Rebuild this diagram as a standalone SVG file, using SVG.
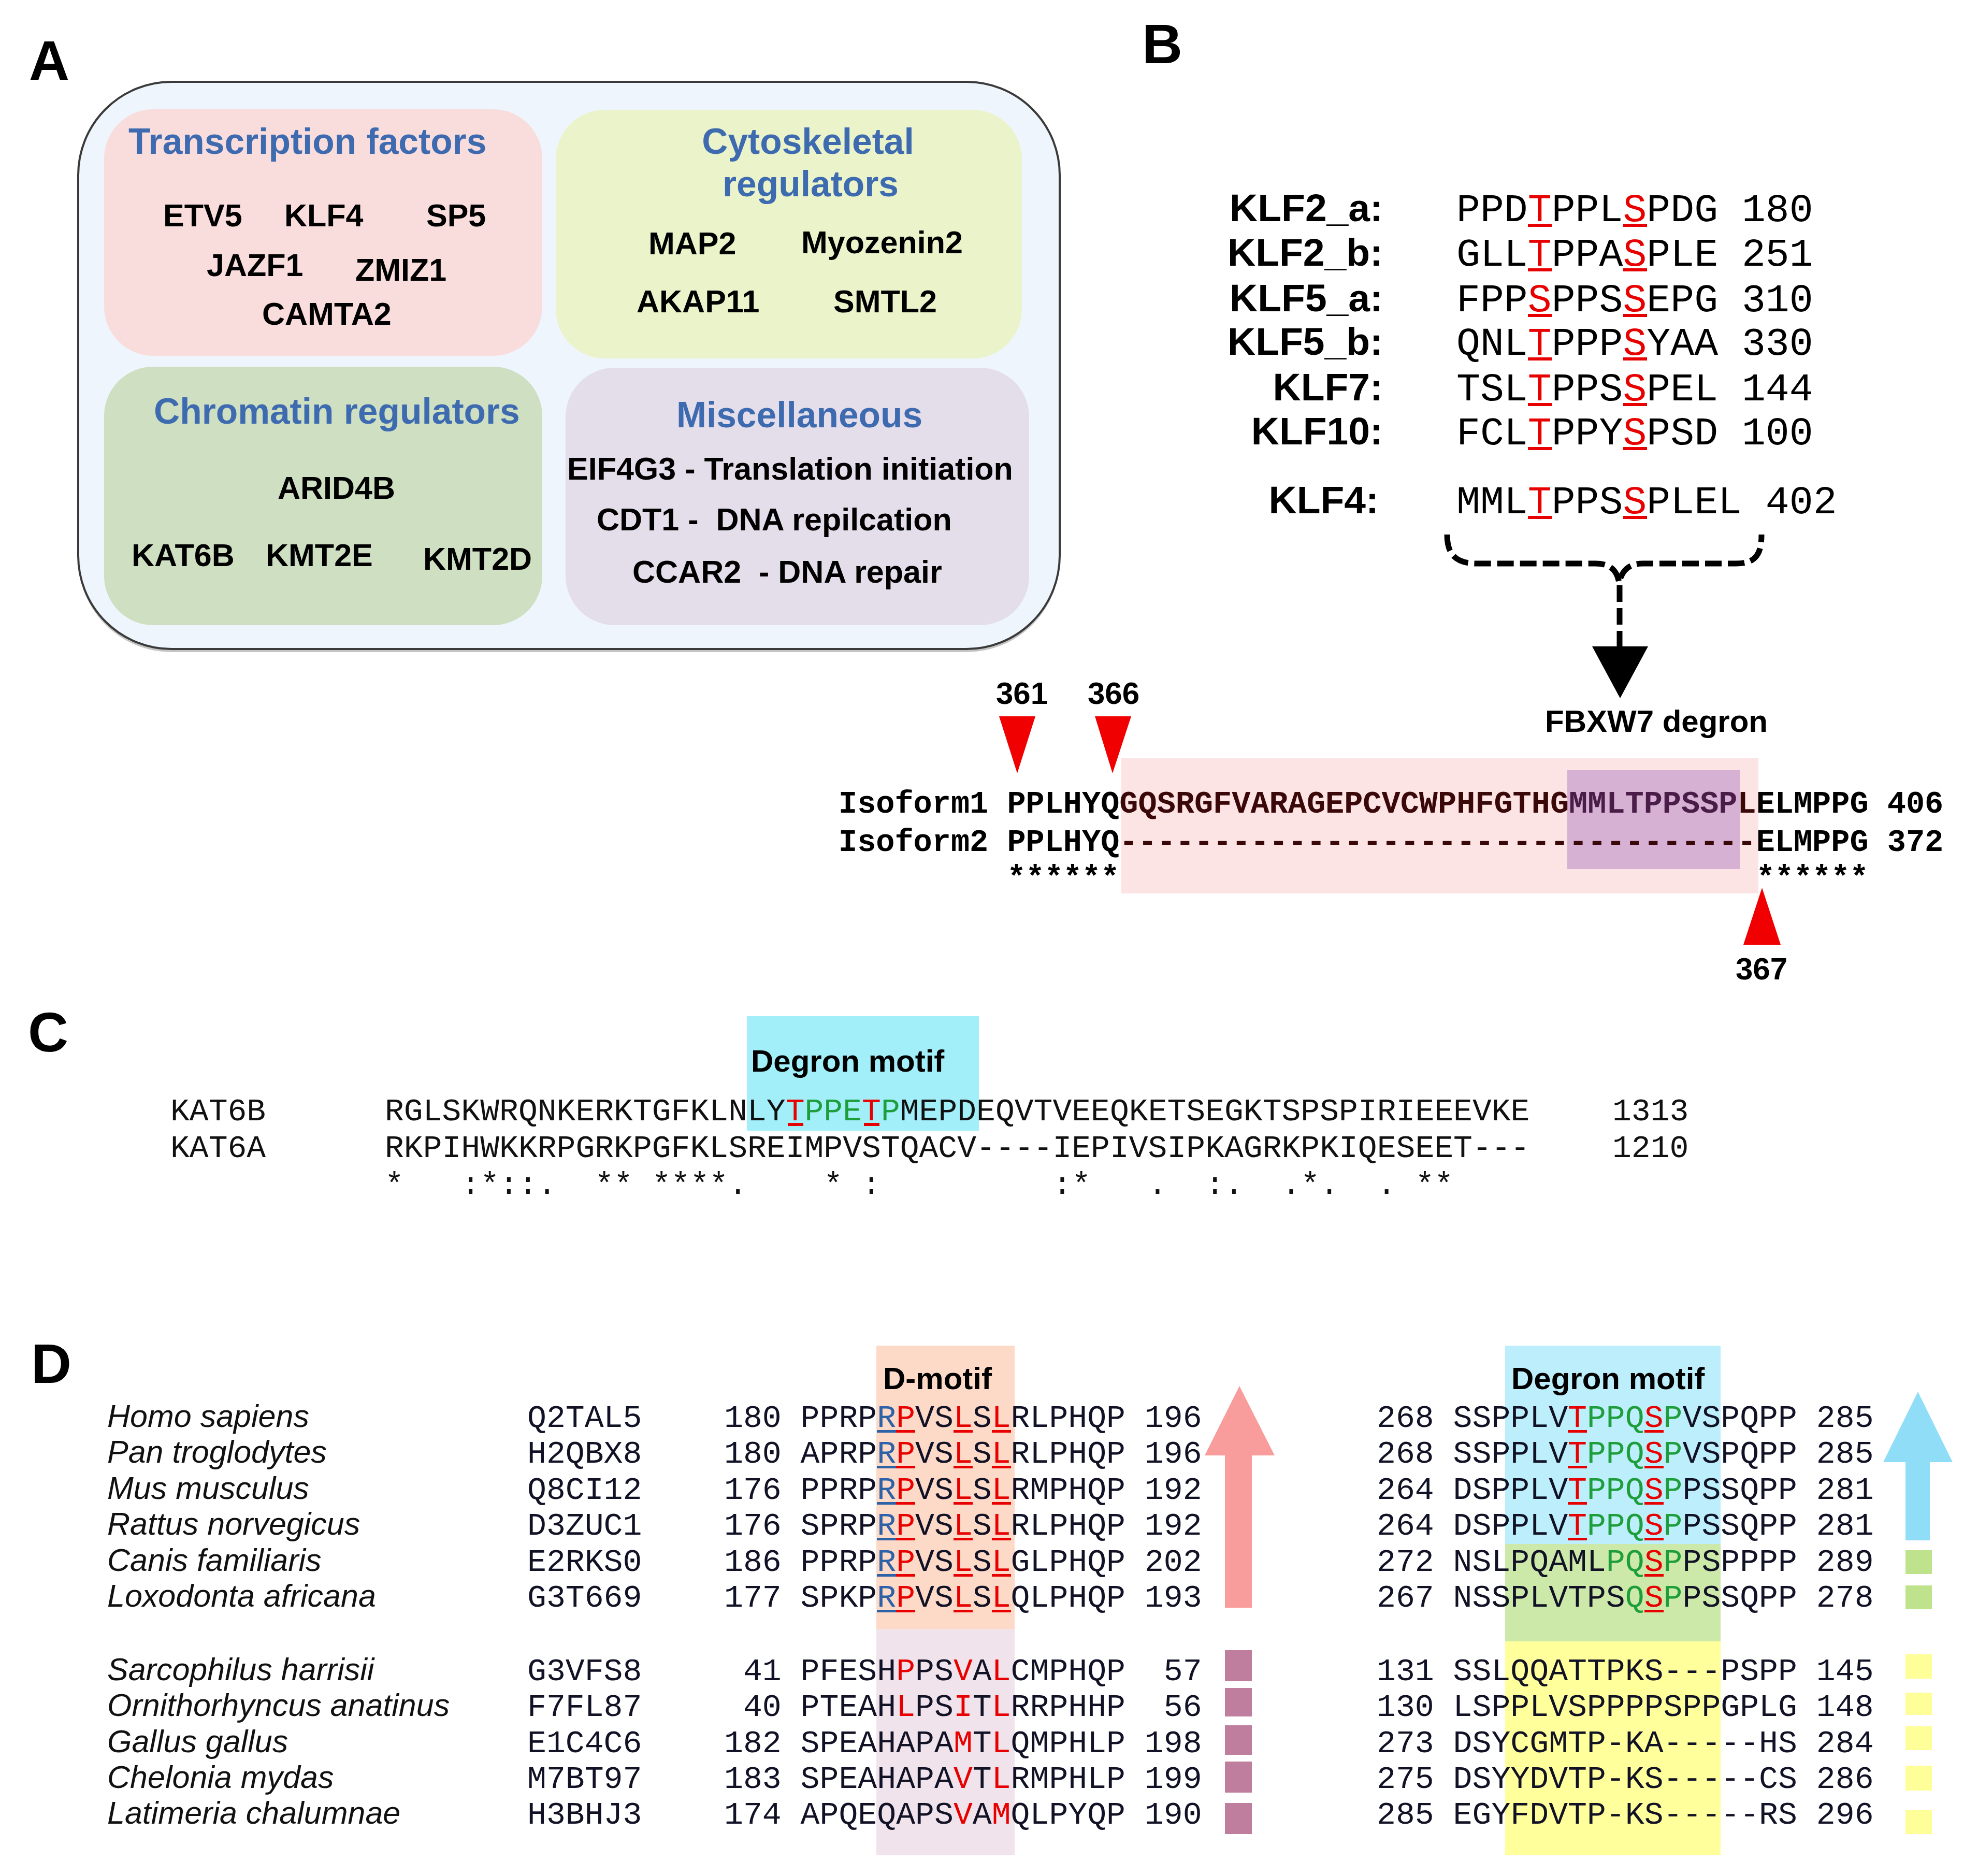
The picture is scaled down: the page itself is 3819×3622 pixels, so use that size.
<svg xmlns="http://www.w3.org/2000/svg" width="3819" height="3622" viewBox="0 0 3819 3622">
<style>
.lbl{font-family:"Liberation Sans",Arial,sans-serif;font-weight:bold;font-size:108px;fill:#000}
.ttl{font-family:"Liberation Sans",Arial,sans-serif;font-weight:bold;font-size:69.5px;fill:#3E6BB0}
.itm{font-family:"Liberation Sans",Arial,sans-serif;font-weight:bold;font-size:61px;fill:#000}
.klf{font-family:"Liberation Sans",Arial,sans-serif;font-weight:bold;font-size:75px;fill:#000}
.bs{font-family:"Liberation Sans",Arial,sans-serif;font-weight:bold;font-size:60px;fill:#000}
.kseq{font-family:"Liberation Mono","DejaVu Sans Mono",monospace;font-size:76.5px;fill:#000;white-space:pre}
.iso{font-family:"Liberation Mono","DejaVu Sans Mono",monospace;font-weight:bold;font-size:60.25px;fill:#000;white-space:pre}
.cseq{font-family:"Liberation Mono","DejaVu Sans Mono",monospace;font-size:61.4px;fill:#111;white-space:pre}
.dseq{font-family:"Liberation Mono","DejaVu Sans Mono",monospace;font-size:61.5px;fill:#121226;white-space:pre}
.sp{font-family:"Liberation Sans",Arial,sans-serif;font-style:italic;font-size:61px;fill:#111}
.r{fill:#E80000}
.g{fill:#1E9E3A}
.b{fill:#2E62A8}
.ul{fill:#E80000}
.ulb{fill:#2E62A8}
.dr{fill:#3A0808}
.pu{fill:#4A1C48}
</style>

<!-- Panel letters -->
<text class="lbl" x="56" y="154">A</text>
<text class="lbl" x="2205" y="122">B</text>
<text class="lbl" x="54" y="2030">C</text>
<text class="lbl" x="60" y="2670">D</text>

<!-- Panel A -->
<g id="panelA">
  <rect x="151" y="164" width="1895" height="1095" rx="180" ry="180" fill="#C4C4C4"/>
  <rect x="151" y="158" width="1895" height="1095" rx="180" ry="180" fill="#EEF5FC" stroke="#3A3A3A" stroke-width="4"/>
  <g id="tf">
    <rect x="201" y="211" width="846" height="476" rx="95" ry="95" fill="#F9DCDC"/>
    <text class="ttl" x="248" y="297">Transcription factors</text>
    <text class="itm" x="315" y="437">ETV5</text>
    <text class="itm" x="549" y="437">KLF4</text>
    <text class="itm" x="823" y="437">SP5</text>
    <text class="itm" x="399" y="533">JAZF1</text>
    <text class="itm" x="686" y="542">ZMIZ1</text>
    <text class="itm" x="506" y="627">CAMTA2</text>
  </g>
  <g id="cyto">
    <rect x="1073" y="212" width="900" height="480" rx="95" ry="95" fill="#EAF3CA"/>
    <text class="ttl" x="1560" y="297" text-anchor="middle">Cytoskeletal</text>
    <text class="ttl" x="1565" y="379" text-anchor="middle">regulators</text>
    <text class="itm" x="1252" y="491">MAP2</text>
    <text class="itm" x="1547" y="489">Myozenin2</text>
    <text class="itm" x="1229" y="603">AKAP11</text>
    <text class="itm" x="1609" y="603">SMTL2</text>
  </g>
  <g id="chrom">
    <rect x="201" y="708" width="846" height="499" rx="95" ry="95" fill="#CEDFC2"/>
    <text class="ttl" x="297" y="818">Chromatin regulators</text>
    <text class="itm" x="536" y="963">ARID4B</text>
    <text class="itm" x="254" y="1093">KAT6B</text>
    <text class="itm" x="513" y="1093">KMT2E</text>
    <text class="itm" x="817" y="1100">KMT2D</text>
  </g>
  <g id="misc">
    <rect x="1092" y="710" width="895" height="497" rx="95" ry="95" fill="#E4DDEA"/>
    <text class="ttl" x="1306" y="825">Miscellaneous</text>
    <text class="itm" x="1095" y="926" xml:space="preserve">EIF4G3 - Translation initiation</text>
    <text class="itm" x="1152" y="1024" xml:space="preserve">CDT1 -  DNA repilcation</text>
    <text class="itm" x="1221" y="1125" xml:space="preserve">CCAR2  - DNA repair</text>
  </g>
</g>

<!-- Panel B -->
<g id="panelB">
  <g id="klf-labels">
    <text class="klf" x="2670" y="427" text-anchor="end">KLF2_a:</text>
    <text class="klf" x="2670" y="513" text-anchor="end">KLF2_b:</text>
    <text class="klf" x="2670" y="601" text-anchor="end">KLF5_a:</text>
    <text class="klf" x="2670" y="685" text-anchor="end">KLF5_b:</text>
    <text class="klf" x="2670" y="773" text-anchor="end">KLF7:</text>
    <text class="klf" x="2670" y="858" text-anchor="end">KLF10:</text>
    <text class="klf" x="2662" y="991" text-anchor="end">KLF4:</text>
  </g>
  <g id="klf-seqs">
    <text class="kseq" x="2812" y="427" xml:space="preserve">PPD<tspan class="r">T</tspan>PPL<tspan class="r">S</tspan>PDG 180</text>
    <text class="kseq" x="2812" y="513" xml:space="preserve">GLL<tspan class="r">T</tspan>PPA<tspan class="r">S</tspan>PLE 251</text>
    <text class="kseq" x="2812" y="601" xml:space="preserve">FPP<tspan class="r">S</tspan>PPS<tspan class="r">S</tspan>EPG 310</text>
    <text class="kseq" x="2812" y="685" xml:space="preserve">QNL<tspan class="r">T</tspan>PPP<tspan class="r">S</tspan>YAA 330</text>
    <text class="kseq" x="2812" y="773" xml:space="preserve">TSL<tspan class="r">T</tspan>PPS<tspan class="r">S</tspan>PEL 144</text>
    <text class="kseq" x="2812" y="858" xml:space="preserve">FCL<tspan class="r">T</tspan>PPY<tspan class="r">S</tspan>PSD 100</text>
    <text class="kseq" x="2812" y="991" xml:space="preserve">MML<tspan class="r">T</tspan>PPS<tspan class="r">S</tspan>PLEL 402</text>
    <g class="ul">
      <rect x="2950" y="432" width="46" height="6"/><rect x="3134" y="432" width="46" height="6"/>
      <rect x="2950" y="518" width="46" height="6"/><rect x="3134" y="518" width="46" height="6"/>
      <rect x="2950" y="606" width="46" height="6"/><rect x="3134" y="606" width="46" height="6"/>
      <rect x="2950" y="690" width="46" height="6"/><rect x="3134" y="690" width="46" height="6"/>
      <rect x="2950" y="778" width="46" height="6"/><rect x="3134" y="778" width="46" height="6"/>
      <rect x="2950" y="863" width="46" height="6"/><rect x="3134" y="863" width="46" height="6"/>
      <rect x="2950" y="996" width="46" height="6"/><rect x="3134" y="996" width="46" height="6"/>
    </g>
  </g>
  <g id="brace" fill="none" stroke="#000" stroke-width="11" stroke-dasharray="32 12">
    <path d="M2794 1032 C2794 1072 2812 1088 2852 1088 L3080 1088 C3108 1088 3122 1100 3126 1125 C3132 1100 3146 1088 3172 1088 L3352 1088 C3390 1088 3401 1070 3401 1032"/>
    <path d="M3127 1130 L3127 1250"/>
  </g>
  <polygon points="3074,1248 3182,1248 3128,1348" fill="#000"/>
  <text class="bs" x="2983" y="1413">FBXW7 degron</text>

  <g id="isoforms">
    <rect x="2165" y="1463" width="1230" height="262" fill="#FDE4E4"/>
    <rect x="3026" y="1487" width="333" height="191" fill="#D6B1D4"/>
    <text class="bs" x="1923" y="1359">361</text>
    <text class="bs" x="2100" y="1359">366</text>
    <polygon points="1929,1383 1999,1383 1964,1493" fill="#F00000"/>
    <polygon points="2114,1383 2184,1383 2148,1493" fill="#F00000"/>
    <text class="iso" x="1619" y="1569" xml:space="preserve">Isoform1 PPLHYQ<tspan class="dr">GQSRGFVARAGEPCVCWPHFGTHG</tspan><tspan class="pu">MMLTPPSSP</tspan><tspan class="dr">L</tspan>ELMPPG 406</text>
    <text class="iso" x="1619" y="1643" xml:space="preserve">Isoform2 PPLHYQ<tspan class="dr">----------------------------------</tspan>ELMPPG 372</text>
    <text class="iso" x="1619" y="1712" xml:space="preserve">         ******                                  ******</text>
    <polygon points="3366,1824 3438,1824 3402,1714" fill="#F00000"/>
    <text class="bs" x="3351" y="1891">367</text>
  </g>
</g>

<!-- Panel C -->
<g id="panelC">
  <rect x="1442" y="1962" width="448" height="221" fill="#A2EFFA"/>
  <text class="bs" x="1450" y="2069">Degron motif</text>
  <text class="cseq" x="329" y="2163">KAT6B</text>
  <text class="cseq" x="329" y="2234">KAT6A</text>
  <text class="cseq" x="743" y="2163" xml:space="preserve">RGLSKWRQNKERKTGFKLNLY<tspan class="r">T</tspan><tspan class="g">PPE</tspan><tspan class="r">T</tspan><tspan class="g">P</tspan>MEPDEQVTVEEQKETSEGKTSPSPIRIEEEVKE</text>
  <text class="cseq" x="743" y="2234" xml:space="preserve">RKPIHWKKRPGRKPGFKLSREIMPVSTQACV----IEPIVSIPKAGRKPKIQESEET---</text>
  <text class="cseq" x="3113" y="2163">1313</text>
  <text class="cseq" x="3113" y="2234">1210</text>
  <text class="cseq" x="743" y="2305" xml:space="preserve">*   :*::.  ** ****.    * :         :*   .  :.  .*.  . **</text>
  <rect x="1521" y="2168" width="30" height="6" class="ul"/>
  <rect x="1668" y="2168" width="30" height="6" class="ul"/>
</g>

<!-- Panel D -->
<g id="panelD">
  <rect x="1692" y="2598" width="267" height="547" fill="#FDD9C8"/>
  <rect x="1692" y="3145" width="267" height="437" fill="#F0E3EB"/>
  <rect x="2906" y="2598" width="416" height="383" fill="#BDEEFB"/>
  <rect x="2906" y="2981" width="416" height="188" fill="#CDE9AA"/>
  <rect x="2906" y="3169" width="416" height="413" fill="#FFFF9C"/>
  <text class="bs" x="1705" y="2682">D-motif</text>
  <text class="bs" x="2918" y="2682">Degron motif</text>

  <g id="species">
    <text class="sp" x="207" y="2755">Homo sapiens</text>
    <text class="sp" x="207" y="2824">Pan troglodytes</text>
    <text class="sp" x="207" y="2894">Mus musculus</text>
    <text class="sp" x="207" y="2963">Rattus norvegicus</text>
    <text class="sp" x="207" y="3033">Canis familiaris</text>
    <text class="sp" x="207" y="3102">Loxodonta africana</text>
    <text class="sp" x="207" y="3244">Sarcophilus harrisii</text>
    <text class="sp" x="207" y="3313">Ornithorhyncus anatinus</text>
    <text class="sp" x="207" y="3383">Gallus gallus</text>
    <text class="sp" x="207" y="3452">Chelonia mydas</text>
    <text class="sp" x="207" y="3521">Latimeria chalumnae</text>
  </g>
  <g id="ids">
    <text class="dseq" x="1018" y="2755">Q2TAL5</text>
    <text class="dseq" x="1018" y="2824">H2QBX8</text>
    <text class="dseq" x="1018" y="2894">Q8CI12</text>
    <text class="dseq" x="1018" y="2963">D3ZUC1</text>
    <text class="dseq" x="1018" y="3033">E2RKS0</text>
    <text class="dseq" x="1018" y="3102">G3T669</text>
    <text class="dseq" x="1018" y="3244">G3VFS8</text>
    <text class="dseq" x="1018" y="3313">F7FL87</text>
    <text class="dseq" x="1018" y="3383">E1C4C6</text>
    <text class="dseq" x="1018" y="3452">M7BT97</text>
    <text class="dseq" x="1018" y="3521">H3BHJ3</text>
  </g>
  <g id="dmotif-seqs">
    <text class="dseq" x="1398" y="2755" xml:space="preserve">180 PPRP<tspan class="b">R</tspan><tspan class="r">P</tspan>VS<tspan class="r">L</tspan>S<tspan class="r">L</tspan>RLPHQP 196</text>
    <text class="dseq" x="1398" y="2824" xml:space="preserve">180 APRP<tspan class="b">R</tspan><tspan class="r">P</tspan>VS<tspan class="r">L</tspan>S<tspan class="r">L</tspan>RLPHQP 196</text>
    <text class="dseq" x="1398" y="2894" xml:space="preserve">176 PPRP<tspan class="b">R</tspan><tspan class="r">P</tspan>VS<tspan class="r">L</tspan>S<tspan class="r">L</tspan>RMPHQP 192</text>
    <text class="dseq" x="1398" y="2963" xml:space="preserve">176 SPRP<tspan class="b">R</tspan><tspan class="r">P</tspan>VS<tspan class="r">L</tspan>S<tspan class="r">L</tspan>RLPHQP 192</text>
    <text class="dseq" x="1398" y="3033" xml:space="preserve">186 PPRP<tspan class="b">R</tspan><tspan class="r">P</tspan>VS<tspan class="r">L</tspan>S<tspan class="r">L</tspan>GLPHQP 202</text>
    <text class="dseq" x="1398" y="3102" xml:space="preserve">177 SPKP<tspan class="b">R</tspan><tspan class="r">P</tspan>VS<tspan class="r">L</tspan>S<tspan class="r">L</tspan>QLPHQP 193</text>
    <text class="dseq" x="1398" y="3244" xml:space="preserve"> 41 PFESH<tspan class="r">P</tspan>PS<tspan class="r">V</tspan>A<tspan class="r">L</tspan>CMPHQP  57</text>
    <text class="dseq" x="1398" y="3313" xml:space="preserve"> 40 PTEAH<tspan class="r">L</tspan>PS<tspan class="r">I</tspan>T<tspan class="r">L</tspan>RRPHHP  56</text>
    <text class="dseq" x="1398" y="3383" xml:space="preserve">182 SPEAHAPA<tspan class="r">M</tspan>T<tspan class="r">L</tspan>QMPHLP 198</text>
    <text class="dseq" x="1398" y="3452" xml:space="preserve">183 SPEAHAPA<tspan class="r">V</tspan>T<tspan class="r">L</tspan>RMPHLP 199</text>
    <text class="dseq" x="1398" y="3521" xml:space="preserve">174 APQEQAPS<tspan class="r">V</tspan>A<tspan class="r">M</tspan>QLPYQP 190</text>
    <g id="dmotif-ul">
      <rect class="ulb" x="1693" y="2761" width="37" height="5"/><rect class="ul" x="1730" y="2761" width="37" height="5"/><rect class="ul" x="1841" y="2761" width="37" height="5"/><rect class="ul" x="1915" y="2761" width="37" height="5"/>
      <rect class="ulb" x="1693" y="2830" width="37" height="5"/><rect class="ul" x="1730" y="2830" width="37" height="5"/><rect class="ul" x="1841" y="2830" width="37" height="5"/><rect class="ul" x="1915" y="2830" width="37" height="5"/>
      <rect class="ulb" x="1693" y="2900" width="37" height="5"/><rect class="ul" x="1730" y="2900" width="37" height="5"/><rect class="ul" x="1841" y="2900" width="37" height="5"/><rect class="ul" x="1915" y="2900" width="37" height="5"/>
      <rect class="ulb" x="1693" y="2969" width="37" height="5"/><rect class="ul" x="1730" y="2969" width="37" height="5"/><rect class="ul" x="1841" y="2969" width="37" height="5"/><rect class="ul" x="1915" y="2969" width="37" height="5"/>
      <rect class="ulb" x="1693" y="3039" width="37" height="5"/><rect class="ul" x="1730" y="3039" width="37" height="5"/><rect class="ul" x="1841" y="3039" width="37" height="5"/><rect class="ul" x="1915" y="3039" width="37" height="5"/>
      <rect class="ulb" x="1693" y="3108" width="37" height="5"/><rect class="ul" x="1730" y="3108" width="37" height="5"/><rect class="ul" x="1841" y="3108" width="37" height="5"/><rect class="ul" x="1915" y="3108" width="37" height="5"/>
    </g>
  </g>
  <g id="degron-seqs">
    <text class="dseq" x="2658" y="2755" xml:space="preserve">268 SSPPLV<tspan class="r">T</tspan><tspan class="g">PPQ</tspan><tspan class="r">S</tspan><tspan class="g">P</tspan>VSPQPP 285</text>
    <text class="dseq" x="2658" y="2824" xml:space="preserve">268 SSPPLV<tspan class="r">T</tspan><tspan class="g">PPQ</tspan><tspan class="r">S</tspan><tspan class="g">P</tspan>VSPQPP 285</text>
    <text class="dseq" x="2658" y="2894" xml:space="preserve">264 DSPPLV<tspan class="r">T</tspan><tspan class="g">PPQ</tspan><tspan class="r">S</tspan><tspan class="g">P</tspan>PSSQPP 281</text>
    <text class="dseq" x="2658" y="2963" xml:space="preserve">264 DSPPLV<tspan class="r">T</tspan><tspan class="g">PPQ</tspan><tspan class="r">S</tspan><tspan class="g">P</tspan>PSSQPP 281</text>
    <text class="dseq" x="2658" y="3033" xml:space="preserve">272 NSLPQAML<tspan class="g">PQ</tspan><tspan class="r">S</tspan><tspan class="g">P</tspan>PSPPPP 289</text>
    <text class="dseq" x="2658" y="3102" xml:space="preserve">267 NSSPLVTPS<tspan class="g">Q</tspan><tspan class="r">S</tspan><tspan class="g">P</tspan>PSSQPP 278</text>
    <text class="dseq" x="2658" y="3244" xml:space="preserve">131 SSLQQATTPKS---PSPP 145</text>
    <text class="dseq" x="2658" y="3313" xml:space="preserve">130 LSPPLVSPPPPSPPGPLG 148</text>
    <text class="dseq" x="2658" y="3383" xml:space="preserve">273 DSYCGMTP-KA-----HS 284</text>
    <text class="dseq" x="2658" y="3452" xml:space="preserve">275 DSYYDVTP-KS-----CS 286</text>
    <text class="dseq" x="2658" y="3521" xml:space="preserve">285 EGYFDVTP-KS-----RS 296</text>
    <g id="degron-ul" class="ul">
      <rect x="3027" y="2761" width="37" height="5"/><rect x="3175" y="2761" width="37" height="5"/>
      <rect x="3027" y="2830" width="37" height="5"/><rect x="3175" y="2830" width="37" height="5"/>
      <rect x="3027" y="2900" width="37" height="5"/><rect x="3175" y="2900" width="37" height="5"/>
      <rect x="3027" y="2969" width="37" height="5"/><rect x="3175" y="2969" width="37" height="5"/>
      <rect x="3175" y="3039" width="37" height="5"/>
      <rect x="3175" y="3108" width="37" height="5"/>
    </g>
  </g>

  <g id="markers">
    <polygon points="2393,2676 2461,2810 2417,2810 2417,3104 2365,3104 2365,2810 2326,2810" fill="#F99C9C"/>
    <g fill="#C07E9F">
      <rect x="2365" y="3186" width="52" height="60"/>
      <rect x="2365" y="3259" width="52" height="55"/>
      <rect x="2365" y="3331" width="52" height="57"/>
      <rect x="2365" y="3401" width="52" height="60"/>
      <rect x="2365" y="3481" width="52" height="60"/>
    </g>
    <polygon points="3703,2687 3770,2823 3726,2823 3726,2974 3679,2974 3679,2823 3636,2823" fill="#8FDDF6"/>
    <g fill="#BEE38C">
      <rect x="3679" y="2993" width="51" height="46"/>
      <rect x="3679" y="3061" width="51" height="46"/>
    </g>
    <g fill="#FFFF99">
      <rect x="3679" y="3194" width="51" height="47"/>
      <rect x="3679" y="3268" width="51" height="43"/>
      <rect x="3679" y="3333" width="51" height="46"/>
      <rect x="3679" y="3409" width="51" height="48"/>
      <rect x="3679" y="3495" width="51" height="46"/>
    </g>
  </g>
</g>
</svg>
